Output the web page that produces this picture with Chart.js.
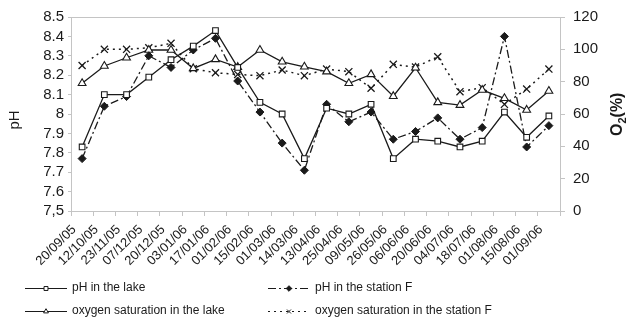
<!DOCTYPE html>
<html>
<head>
<meta charset="utf-8">
<script src="https://cdn.jsdelivr.net/npm/chart.js@4/dist/chart.umd.min.js"></script>
<style>
  html, body { margin: 0; padding: 0; background: #fff; }
  #wrap { width: 627px; height: 320px; position: relative; }
</style>
</head>
<body>
<div id="wrap"><canvas id="c" width="627" height="320"></canvas></div>
<script>
// Sampling dates
const dates = ['20/09/05','12/10/05','23/11/05','07/12/05','20/12/05','03/01/06','17/01/06',
  '01/02/06','15/02/06','01/03/06','14/03/06','13/04/06','25/04/06','09/05/06','26/05/06',
  '06/06/06','20/06/06','04/07/06','18/07/06','01/08/06','15/08/06','01/09/06'];

// pH (left axis)
const phLake = [7.83, 8.10, 8.10, 8.19, 8.28, 8.35, 8.43, 8.24, 8.06, 8.00, 7.77,
  8.03, 8.00, 8.05, 7.77, 7.87, 7.86, 7.83, 7.86, 8.01, 7.88, 7.99];
const phStationF = [7.77, 8.04, 8.09, 8.30, 8.24, 8.33, 8.39, 8.17, 8.01, 7.85, 7.71,
  8.05, 7.96, 8.01, 7.87, 7.91, 7.98, 7.87, 7.93, 8.40, 7.83, 7.94];

// Oxygen saturation, % (right axis)
const o2Lake = [79, 89.7, 94.8, 99.6, 99.6, 88.2, 93.8, 89, 99.6, 92.3, 89.2,
  86.2, 79, 84.5, 71, 88.6, 67.2, 65.5, 74.8, 69.7, 62.5, 74.2];
const o2StationF = [90, 100, 100, 101, 103.7, 88, 85.5, 84.5, 83.7, 87.2, 83.7,
  87.8, 86.2, 75.9, 90.7, 89, 95.4, 73.8, 76.3, 66, 75.4, 87.8];

const phTickLabels = ['7,5','7.6','7.7','7.8','7.9','8','8.1','8.2','8.3','8.4','8.5'];
const o2TickLabels = ['0','20','40','60','80','100','120'];

const seriesNames = ['pH in the lake', 'pH in the station F',
  'oxygen saturation in the lake', 'oxygen saturation in the station F'];

const INK = '#1a1a1a';
const AXIS = '#c4c4c4';
const FONT = "'Liberation Sans', Arial, sans-serif";

const datasets = [
  { label: seriesNames[0], data: phLake, yAxisID: 'yPh',
    borderColor: INK, borderWidth: 1.3, pointStyle: 'rect', pointRadius: 4,
    pointBackgroundColor: '#fff', pointBorderColor: INK, pointBorderWidth: 1.1 },
  { label: seriesNames[1], data: phStationF, yAxisID: 'yPh',
    borderColor: INK, borderWidth: 1.3, borderDash: [8, 3, 2, 3], pointStyle: 'rectRot', pointRadius: 4,
    pointBackgroundColor: INK, pointBorderColor: INK, pointBorderWidth: 1 },
  { label: seriesNames[2], data: o2Lake, yAxisID: 'yO2',
    borderColor: INK, borderWidth: 1.3, pointStyle: 'triangle', pointRadius: 4.5,
    pointBackgroundColor: '#fff', pointBorderColor: INK, pointBorderWidth: 1.1 },
  { label: seriesNames[3], data: o2StationF, yAxisID: 'yO2',
    borderColor: INK, borderWidth: 1.5, borderDash: [2, 4], pointStyle: 'crossRot', pointRadius: 5,
    pointBackgroundColor: INK, pointBorderColor: INK, pointBorderWidth: 1.3 }
];

// Frame, axis titles and the two-column legend below the axis
const decorations = {
  id: 'decorations',
  beforeDatasetsDraw(chart) {
    const { ctx, chartArea: a } = chart;
    ctx.save();
    ctx.strokeStyle = AXIS;
    ctx.lineWidth = 1;
    ctx.beginPath();
    ctx.moveTo(a.left + 0.5, a.bottom);
    ctx.lineTo(a.left + 0.5, a.top + 0.5);
    ctx.lineTo(a.right, a.top + 0.5);
    ctx.stroke();
    ctx.restore();
  },
  afterDraw(chart) {
    const { ctx, chartArea: a } = chart;
    const midY = (a.top + a.bottom) / 2;
    ctx.save();
    ctx.fillStyle = INK;
    // left title
    ctx.save();
    ctx.translate(15, midY + 6);
    ctx.rotate(-Math.PI / 2);
    ctx.font = '15px ' + FONT;
    ctx.textAlign = 'center';
    ctx.textBaseline = 'middle';
    ctx.fillText('pH', 0, 0);
    ctx.restore();
    // right title: O2(%) with subscript
    ctx.save();
    ctx.translate(618, midY + 22);
    ctx.rotate(-Math.PI / 2);
    ctx.textBaseline = 'middle';
    ctx.textAlign = 'left';
    ctx.font = 'bold 16px ' + FONT;
    ctx.fillText('O', 0, 0);
    let w = ctx.measureText('O').width;
    ctx.font = 'bold 11px ' + FONT;
    ctx.fillText('2', w, 5);
    w += ctx.measureText('2').width;
    ctx.font = 'bold 16px ' + FONT;
    ctx.fillText('(%)', w, 0);
    ctx.restore();

    // legend
    const items = [
      { ds: 0, x: 25, y: 288 }, { ds: 1, x: 268, y: 288 },
      { ds: 2, x: 25, y: 311 }, { ds: 3, x: 268, y: 311 }
    ];
    items.forEach(it => {
      const d = chart.data.datasets[it.ds];
      const x0 = it.x, x1 = it.x + 42;
      ctx.save();
      ctx.strokeStyle = INK;
      ctx.lineWidth = 1.2;
      ctx.setLineDash(d.borderDash || []);
      ctx.beginPath();
      ctx.moveTo(x0, it.y + 0.5);
      ctx.lineTo(x1, it.y + 0.5);
      ctx.stroke();
      ctx.setLineDash([]);
      ctx.fillStyle = d.pointBackgroundColor;
      ctx.strokeStyle = d.pointBorderColor;
      ctx.lineWidth = 1;
      Chart.helpers.drawPoint(ctx, {
        pointStyle: d.pointStyle, radius: 2.8, rotation: 0, borderWidth: 1
      }, (x0 + x1) / 2, it.y + 0.5);
      ctx.restore();
      ctx.save();
      ctx.font = '12px ' + FONT;
      ctx.fillStyle = INK;
      ctx.textBaseline = 'middle';
      ctx.textAlign = 'left';
      ctx.fillText(d.label, x1 + 5, it.y);
      ctx.restore();
    });
    ctx.restore();
  }
};

const chart = new Chart(document.getElementById('c'), {
  type: 'line',
  data: { labels: dates, datasets },
  options: {
    responsive: false,
    animation: false,
    layout: { padding: { top: 17, left: 0, right: 0, bottom: 0 } },
    plugins: { legend: { display: false }, tooltip: { enabled: false } },
    elements: { line: { tension: 0 } },
    scales: {
      x: {
        type: 'category',
        offset: true,
        grid: { display: true, drawOnChartArea: false, offset: true, tickLength: 5, color: AXIS },
        border: { display: true, color: AXIS },
        ticks: { color: INK, font: { family: FONT, size: 13 }, minRotation: 45, maxRotation: 45,
          padding: 6, labelOffset: -8, autoSkip: false },
        afterFit(s) { s.height = 109; }
      },
      yPh: {
        type: 'linear', position: 'left', min: 7.5, max: 8.5,
        grid: { display: true, drawOnChartArea: false, tickLength: 3, color: AXIS },
        border: { display: true, color: AXIS },
        ticks: { stepSize: 0.1, autoSkip: false, color: INK, font: { family: FONT, size: 15 }, padding: 4,
          callback: (v, i) => phTickLabels[i] },
        afterFit(s) { s.width = 71; }
      },
      yO2: {
        type: 'linear', position: 'right', min: 0, max: 120,
        grid: { display: true, drawOnChartArea: false, tickLength: 5, color: AXIS },
        border: { display: true, color: AXIS },
        ticks: { stepSize: 20, autoSkip: false, color: INK, font: { family: FONT, size: 15 }, padding: 8,
          callback: (v, i) => o2TickLabels[i] },
        afterFit(s) { s.width = 67; }
      }
    }
  },
  plugins: [decorations]
});
</script>
</body>
</html>
